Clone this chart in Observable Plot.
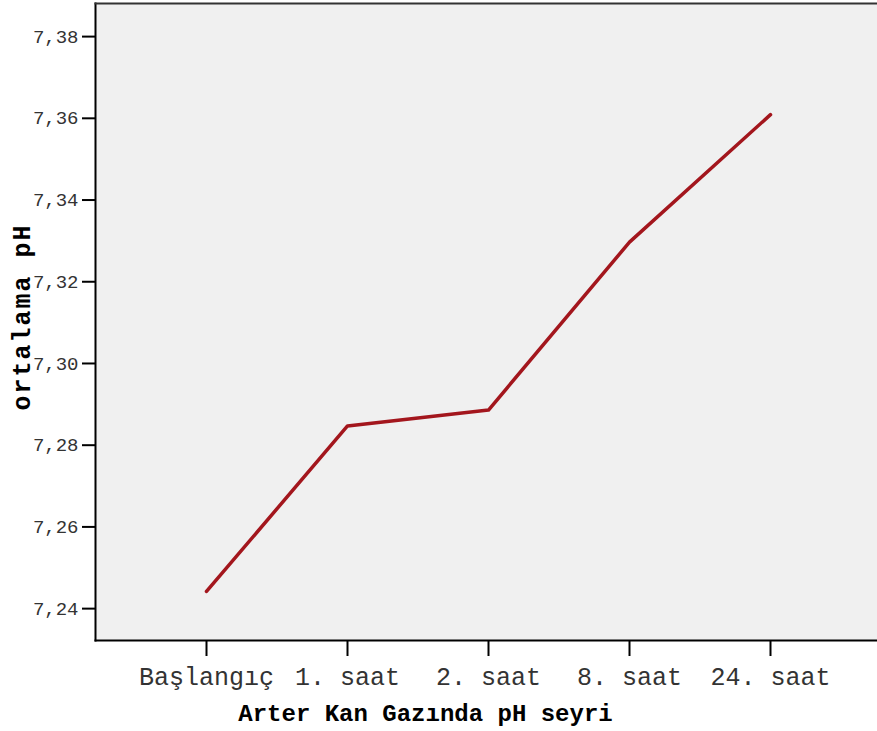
<!DOCTYPE html>
<html>
<head>
<meta charset="utf-8">
<script src="https://cdn.jsdelivr.net/npm/d3@7"></script>
<script src="https://cdn.jsdelivr.net/npm/@observablehq/plot@0.6"></script>
<style>
  html, body { margin: 0; padding: 0; background: #ffffff; }
  #chart svg { display: block; }
  #chart svg > g:last-of-type text { letter-spacing: 2px; }
</style>
</head>
<body>
<div id="chart"></div>
<script>
const categories = ["Başlangıç", "1. saat", "2. saat", "8. saat", "24. saat"];
const phMeans = [7.2442, 7.2847, 7.2886, 7.3297, 7.3609];
const yTicks = [7.24, 7.26, 7.28, 7.30, 7.32, 7.34, 7.36, 7.38];
const xTitle = "Arter Kan Gazında pH seyri";
const yTitle = "ortalama pH";

const data = categories.map((c, i) => ({cat: c, ph: phMeans[i]}));
const mono = "'Liberation Mono', 'Courier New', monospace";

const chart = Plot.plot({
  width: 877,
  height: 731,
  marginLeft: 95,
  marginRight: 0,
  marginTop: 3,
  marginBottom: 91,
  style: {fontFamily: mono, background: "#ffffff", color: "#222"},
  x: {type: "point", domain: categories, range: [95, 881], padding: 0.777, label: null},
  y: {domain: [7.2322, 7.3881], label: null},
  marks: [
    Plot.frame({fill: "#f0f0f0", stroke: null}),
    Plot.axisY({ticks: yTicks, tickSize: 13, tickPadding: 4, tickFormat: d => d.toFixed(2).replace(".", ","), fontSize: 19, stroke: "#000", strokeWidth: 2, fill: "#333"}),
    Plot.axisX({tickSize: 16, tickPadding: 11, fontSize: 25, stroke: "#000", strokeWidth: 2, fill: "#333"}),
    Plot.frame({anchor: "left", stroke: "#000", strokeWidth: 2}),
    Plot.frame({anchor: "top", stroke: "#333", strokeWidth: 2}),
    Plot.frame({anchor: "bottom", stroke: "#000", strokeWidth: 2}),
    Plot.line(data, {x: "cat", y: "ph", stroke: "#a3161d", strokeWidth: 3.5}),
    Plot.text([xTitle], {frameAnchor: "bottom", text: d => d, dx: -61, dy: 73, textAnchor: "middle", lineAnchor: "middle", fontSize: 24, fontWeight: "bold", fill: "#000"}),
    Plot.text([yTitle], {frameAnchor: "left", text: d => d, dx: -74, dy: -5, rotate: -90, textAnchor: "middle", lineAnchor: "middle", fontSize: 25, fontWeight: "bold", fill: "#000"})
  ]
});
document.getElementById("chart").appendChild(chart);
</script>
</body>
</html>
